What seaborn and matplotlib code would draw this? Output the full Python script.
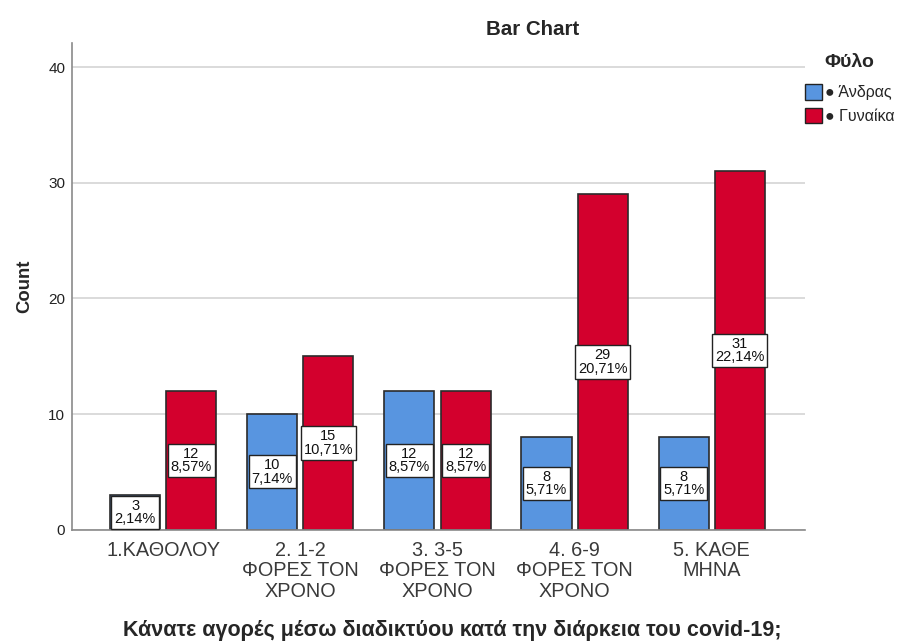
import matplotlib
matplotlib.use("Agg")
import matplotlib.pyplot as plt
from matplotlib.patches import Patch
import seaborn as sns
import pandas as pd

categories = ["1.ΚΑΘΟΛΟΥ", "2. 1-2\nΦΟΡΕΣ ΤΟΝ\nΧΡΟΝΟ", "3. 3-5\nΦΟΡΕΣ ΤΟΝ\nΧΡΟΝΟ",
              "4. 6-9\nΦΟΡΕΣ ΤΟΝ\nΧΡΟΝΟ", "5. ΚΑΘΕ\nΜΗΝΑ"]
genders = ["Άνδρας", "Γυναίκα"]
men = [3, 10, 12, 8, 8]
women = [12, 15, 12, 29, 31]
total = 140
colors = ["#5895E0", "#D3002D"]

df = pd.DataFrame({
    "cat": categories * 2,
    "Φύλο": [genders[0]] * len(men) + [genders[1]] * len(women),
    "count": men + women,
})

sns.set_theme(style="white")
plt.rcParams["font.family"] = ["Liberation Sans", "DejaVu Sans"]

fig = plt.figure(figsize=(9.01, 6.42), dpi=100)
ax = fig.add_axes([0.080, 0.175, 0.8135, 0.758])

sns.barplot(data=df, x="cat", y="count", hue="Φύλο", order=categories,
            hue_order=genders, palette=colors, width=0.82, gap=0.11,
            edgecolor="#2b2b2b", linewidth=1.2, saturation=1, legend=False, ax=ax)

# count / percentage boxes in the middle of each bar
for container in ax.containers:
    for bar in container:
        h = bar.get_height()
        pct = f"{h / total * 100:.2f}".replace(".", ",")
        ax.text(bar.get_x() + bar.get_width() / 2, h / 2, f"{int(h)}\n{pct}%",
                ha="center", va="center", fontsize=10.5, color="#111111", linespacing=0.95,
                bbox=dict(boxstyle="square,pad=0.2", fc="white", ec="#222222", lw=1.0))

ax.set_ylim(0, 42.1)
ax.set_xlim(-0.664, 4.68)
ax.set_yticks([0, 10, 20, 30, 40])
ax.yaxis.grid(True, color="#d4d4d4", linewidth=1.2)
ax.set_axisbelow(True)
for side in ["top", "right"]:
    ax.spines[side].set_visible(False)
ax.spines["left"].set_color("#8a8a8a")
ax.spines["bottom"].set_color("#8a8a8a")
ax.spines["left"].set_linewidth(1.2)
ax.spines["bottom"].set_linewidth(1.2)
ax.tick_params(axis="y", length=0, labelsize=11, pad=5, labelcolor="#222222")
ax.tick_params(axis="x", length=0, labelsize=14.3, pad=8, labelcolor="#3a3a3a")
for lbl in ax.get_xticklabels():
    lbl.set_linespacing(1.1)

ax.set_ylabel("Count", fontsize=13.3, fontweight="bold", labelpad=11)
ax.set_xlabel("Κάνατε αγορές μέσω διαδικτύου κατά την διάρκεια του covid-19;",
              fontsize=15.5, fontweight="bold", labelpad=14, x=0.518)
ax.set_title("Bar Chart", fontsize=14.8, fontweight="bold", pad=6, x=0.629)

handles = [Patch(facecolor=c, edgecolor="#222222", linewidth=1.0) for c in colors]
leg = ax.legend(handles, ["● " + g for g in genders], title="Φύλο",
                loc="upper left", bbox_to_anchor=(0.995, 0.985), frameon=False,
                handlelength=1.1, handleheight=1.1, handletextpad=0.2,
                labelspacing=0.45, fontsize=11.5, borderaxespad=0.0, borderpad=0.2,
                title_fontproperties={"weight": "bold", "size": 14})
leg._legend_box.align = "center"
leg._legend_box.sep = 10

fig.savefig("out.png", dpi=100)
